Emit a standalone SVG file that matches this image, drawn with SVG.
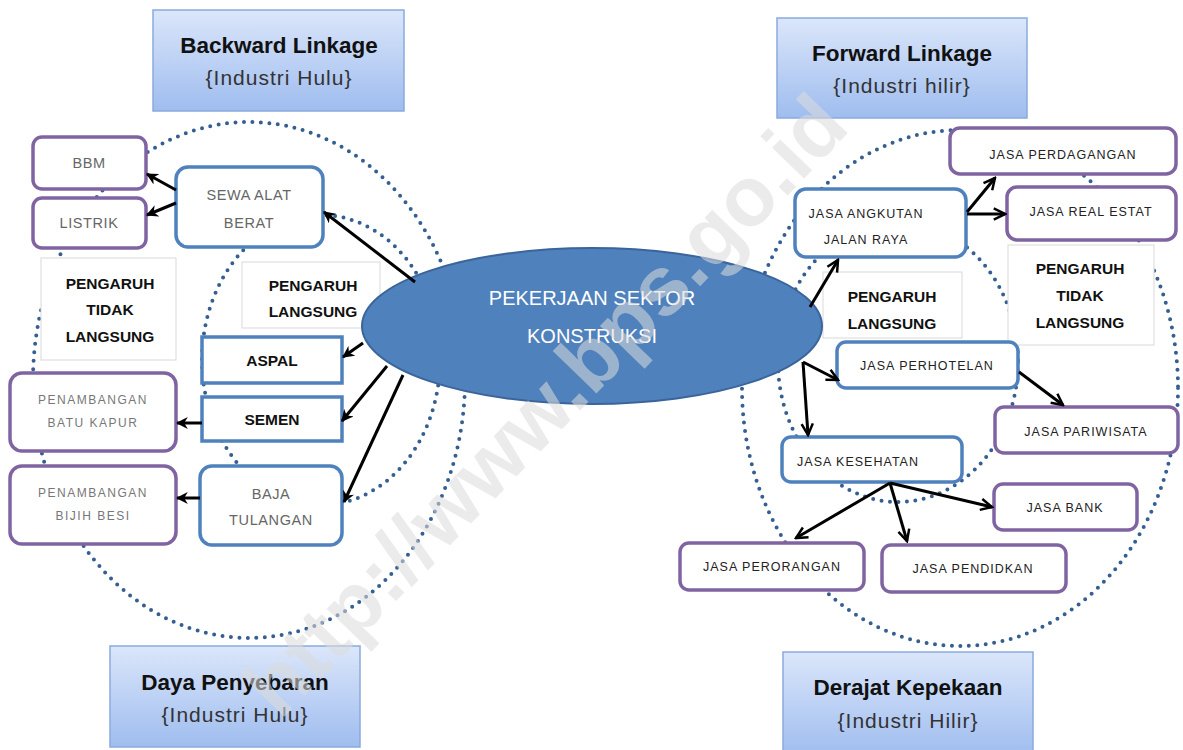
<svg xmlns="http://www.w3.org/2000/svg" width="1183" height="750" viewBox="0 0 1183 750">
<defs>
<linearGradient id="hg" x1="0" y1="0" x2="0" y2="1">
<stop offset="0" stop-color="#dbe6fa"/>
<stop offset="1" stop-color="#9fbdef"/>
</linearGradient>
<marker id="af" viewBox="0 0 10 10" refX="9" refY="5" markerWidth="4" markerHeight="4" orient="auto" markerUnits="strokeWidth">
<path d="M0,0 L10,5 L0,10 L3,5 z" fill="#000"/>
</marker>
<marker id="ao" viewBox="0 0 12 12" refX="10.5" refY="6" markerWidth="5" markerHeight="5" orient="auto" markerUnits="strokeWidth">
<path d="M1.5,1.5 L10.5,6 L1.5,10.5" fill="none" stroke="#000" stroke-width="2"/>
</marker>
</defs>
<style>
.hbox{fill:url(#hg);stroke:#8aaadd;stroke-width:1.5}
.ht{font-family:"Liberation Sans",Arial,sans-serif;font-size:22.5px;font-weight:bold;fill:#111;text-anchor:middle}
.hs{font-family:"Liberation Sans",Arial,sans-serif;font-size:21px;letter-spacing:1px;fill:#333;text-anchor:middle}
.dot{fill:none;stroke:#365f91;stroke-width:4;stroke-linecap:round;stroke-dasharray:0 8.5}
.pb{fill:#fff;stroke:#8064a2;stroke-width:3.5}
.bb{fill:#fff;stroke:#4f81bd;stroke-width:3.5}
.lb{fill:#fff;stroke:#d9d9d9;stroke-width:1}
.g{font-family:"Liberation Sans",Arial,sans-serif;font-size:14.5px;letter-spacing:0.6px;fill:#666;text-anchor:middle}
.gs{font-family:"Liberation Sans",Arial,sans-serif;font-size:12px;fill:#777;text-anchor:middle;letter-spacing:1.5px}
.j{font-family:"Liberation Sans",Arial,sans-serif;font-size:12.5px;fill:#222;text-anchor:middle;letter-spacing:1px}
.b{font-family:"Liberation Sans",Arial,sans-serif;font-size:15.5px;font-weight:bold;fill:#111;text-anchor:middle}
.c{fill:none;stroke:#000;stroke-width:3}
.cf{marker-end:url(#af)}
.co{marker-end:url(#ao)}
.w{font-family:"Liberation Sans",Arial,sans-serif;font-size:84px;font-weight:bold;fill:#dcdcdc;opacity:0.55;text-anchor:middle}
</style>
<rect width="1183" height="750" fill="#fff"/>

<!-- dotted zones -->
<g id="zones">
<ellipse class="dot" cx="249" cy="380" rx="216" ry="258"/>
<ellipse class="dot" cx="321" cy="360" rx="119" ry="145"/>
<ellipse class="dot" cx="960" cy="388" rx="218" ry="258"/>
<ellipse class="dot" cx="898" cy="362" rx="120" ry="140"/>
</g>

<!-- headers -->
<g id="backward-linkage">
<rect class="hbox" x="153" y="10" width="251" height="101"/>
<text class="ht" x="279" y="53">Backward Linkage</text>
<text class="hs" x="279" y="85">{Industri Hulu}</text>
</g>
<g id="forward-linkage">
<rect class="hbox" x="777" y="18" width="250" height="100"/>
<text class="ht" x="902" y="61">Forward Linkage</text>
<text class="hs" x="902" y="93">{Industri hilir}</text>
</g>
<g id="daya-penyebaran">
<rect class="hbox" x="110" y="646" width="250" height="101"/>
<text class="ht" x="235" y="690">Daya Penyebaran</text>
<text class="hs" x="235" y="722">{Industri Hulu}</text>
</g>
<g id="derajat-kepekaan">
<rect class="hbox" x="783" y="652" width="250" height="104"/>
<text class="ht" x="908" y="695">Derajat Kepekaan</text>
<text class="hs" x="908" y="728">{Industri Hilir}</text>
</g>

<!-- label boxes -->
<g id="pengaruh-tidak-langsung-l">
<rect class="lb" x="41" y="258" width="135" height="102"/>
<text class="b" x="110" y="289">PENGARUH</text>
<text class="b" x="110" y="315">TIDAK</text>
<text class="b" x="110" y="342">LANGSUNG</text>
</g>
<g id="pengaruh-langsung-l">
<rect class="lb" x="242" y="262" width="138" height="66"/>
<text class="b" x="313" y="291">PENGARUH</text>
<text class="b" x="313" y="317">LANGSUNG</text>
</g>
<g id="pengaruh-langsung-r">
<rect class="lb" x="823" y="272" width="139" height="66"/>
<text class="b" x="892" y="302">PENGARUH</text>
<text class="b" x="892" y="329">LANGSUNG</text>
</g>
<g id="pengaruh-tidak-langsung-r">
<rect class="lb" x="1008" y="245" width="146" height="100"/>
<text class="b" x="1080" y="274">PENGARUH</text>
<text class="b" x="1080" y="301">TIDAK</text>
<text class="b" x="1080" y="328">LANGSUNG</text>
</g>

<!-- center -->
<g id="pekerjaan-sektor-konstruksi">
<ellipse cx="592" cy="326" rx="230" ry="78" fill="#4f81bd" stroke="#3b659a" stroke-width="2"/>
<text x="592" y="305" font-family="'Liberation Sans',Arial,sans-serif" font-size="20" fill="#fff" text-anchor="middle">PEKERJAAN SEKTOR</text>
<text x="592" y="343" font-family="'Liberation Sans',Arial,sans-serif" font-size="20" fill="#fff" text-anchor="middle">KONSTRUKSI</text>
</g>

<!-- left nodes -->
<g id="bbm">
<rect class="pb" x="33" y="137" width="113" height="52" rx="9"/>
<text class="g" x="89" y="168">BBM</text>
</g>
<g id="listrik">
<rect class="pb" x="33" y="198" width="113" height="50" rx="9"/>
<text class="g" x="89" y="228">LISTRIK</text>
</g>
<g id="sewa-alat-berat">
<rect class="bb" x="176" y="167" width="147" height="80" rx="12"/>
<text class="g" x="249" y="200">SEWA ALAT</text>
<text class="g" x="249" y="228">BERAT</text>
</g>
<g id="aspal">
<rect class="bb" x="202" y="337" width="140" height="46"/>
<text class="b" x="272" y="366">ASPAL</text>
</g>
<g id="semen">
<rect class="bb" x="202" y="397" width="140" height="44"/>
<text class="b" x="272" y="425">SEMEN</text>
</g>
<g id="baja-tulangan">
<rect class="bb" x="200" y="466" width="142" height="79" rx="12"/>
<text class="g" x="271" y="499">BAJA</text>
<text class="g" x="271" y="525">TULANGAN</text>
</g>
<g id="penambangan-batu-kapur">
<rect class="pb" x="10" y="373" width="166" height="78" rx="12"/>
<text class="gs" x="93" y="404">PENAMBANGAN</text>
<text class="gs" x="93" y="427">BATU KAPUR</text>
</g>
<g id="penambangan-bijih-besi">
<rect class="pb" x="10" y="466" width="166" height="78" rx="12"/>
<text class="gs" x="93" y="497">PENAMBANGAN</text>
<text class="gs" x="93" y="520">BIJIH BESI</text>
</g>

<!-- right nodes -->
<g id="jasa-angkutan">
<rect class="bb" x="795" y="189" width="171" height="68" rx="11"/>
<text class="j" x="866" y="218">JASA ANGKUTAN</text>
<text class="j" x="866" y="244">JALAN RAYA</text>
</g>
<g id="jasa-perdagangan">
<rect class="pb" x="950" y="128" width="226" height="46" rx="10"/>
<text class="j" x="1063" y="159">JASA PERDAGANGAN</text>
</g>
<g id="jasa-real-estat">
<rect class="pb" x="1007" y="187" width="169" height="53" rx="10"/>
<text class="j" x="1091" y="216">JASA REAL ESTAT</text>
</g>
<g id="jasa-perhotelan">
<rect class="bb" x="837" y="342" width="181" height="46" rx="9"/>
<text class="j" x="927" y="370">JASA PERHOTELAN</text>
</g>
<g id="jasa-pariwisata">
<rect class="pb" x="995" y="407" width="183" height="46" rx="9"/>
<text class="j" x="1086" y="436">JASA PARIWISATA</text>
</g>
<g id="jasa-kesehatan">
<rect class="bb" x="782" y="437" width="180" height="45" rx="9"/>
<text class="j" x="858" y="466">JASA KESEHATAN</text>
</g>
<g id="jasa-bank">
<rect class="pb" x="994" y="484" width="143" height="46" rx="9"/>
<text class="j" x="1065" y="512">JASA BANK</text>
</g>
<g id="jasa-perorangan">
<rect class="pb" x="680" y="543" width="184" height="47" rx="9"/>
<text class="j" x="772" y="571">JASA PERORANGAN</text>
</g>
<g id="jasa-pendidkan">
<rect class="pb" x="882" y="545" width="184" height="47" rx="9"/>
<text class="j" x="973" y="573">JASA PENDIDKAN</text>
</g>

<!-- connectors -->
<g id="connectors">
<line class="c cf" x1="176" y1="190" x2="147" y2="174"/>
<line class="c cf" x1="176" y1="203" x2="147" y2="215"/>
<line class="c cf" x1="415" y1="282" x2="324" y2="212"/>
<line class="c cf" x1="363" y1="343" x2="343" y2="357"/>
<line class="c cf" x1="387" y1="366" x2="342" y2="421"/>
<line class="c cf" x1="403" y1="375" x2="344" y2="502"/>
<line class="c cf" x1="202" y1="423" x2="177" y2="423"/>
<line class="c cf" x1="200" y1="498" x2="177" y2="498"/>
<line class="c co" x1="810" y1="307" x2="838" y2="260"/>
<line class="c co" x1="967" y1="212" x2="995" y2="178"/>
<line class="c co" x1="967" y1="214" x2="1005" y2="214"/>
<line class="c co" x1="803" y1="362" x2="838" y2="380"/>
<line class="c co" x1="803" y1="362" x2="808" y2="435"/>
<line class="c co" x1="1019" y1="372" x2="1063" y2="405"/>
<line class="c co" x1="890" y1="483" x2="992" y2="507"/>
<line class="c co" x1="890" y1="483" x2="796" y2="538"/>
<line class="c co" x1="890" y1="483" x2="907" y2="541"/>
</g>

<text class="w" x="566" y="425" transform="rotate(-46 566 425)">http://www.bps.go.id</text>
</svg>
